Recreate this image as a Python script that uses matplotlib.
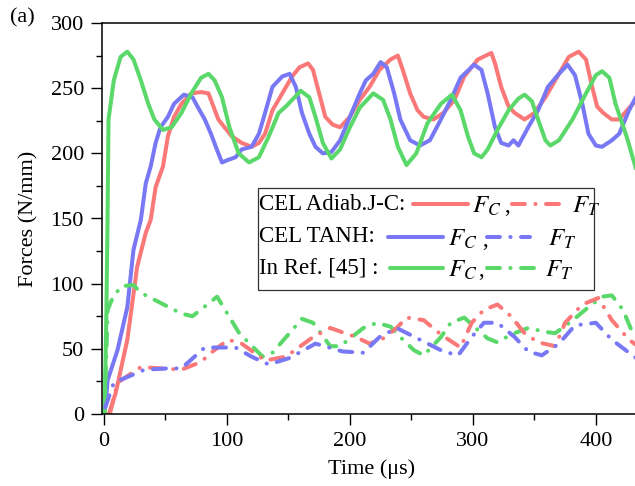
import matplotlib
matplotlib.use("Agg")
from matplotlib import pyplot as plt
from matplotlib.lines import Line2D
from matplotlib.patches import Rectangle

plt.rcParams["font.family"] = ["Liberation Serif", "DejaVu Serif"]
plt.rcParams["mathtext.fontset"] = "stix"

RED = "#fa7878"
BLUE = "#7878f5"
GREEN = "#5ad86a"

# CEL Adiab. J-C, F_C
adiab_fc_t = [0, 4, 9.5, 19, 27, 34, 38, 42, 48, 52, 57, 63, 71, 79, 85, 89, 93, 98, 104, 112, 120, 126,
              131, 137, 145, 153, 159, 166, 170, 175, 180, 186, 192, 200, 208, 216, 224, 233, 239, 243,
              249, 255, 260, 268, 276, 285, 293, 304, 315, 318, 323, 329, 334, 342, 350, 359, 370, 378,
              386, 392, 397, 401, 406, 413, 419, 430, 437]
adiab_fc = [0, 0, 16, 57, 113, 139, 149, 174, 190, 213, 228, 238, 246, 247, 246, 236, 226, 220, 213, 208, 205, 208,
            215, 233, 246, 259, 266, 269, 264, 246, 228, 222, 220, 228, 241, 251, 264, 272, 275, 264,
            246, 233, 228, 226, 231, 241, 259, 272, 277, 269, 251, 236, 231, 226, 231, 243, 261, 274,
            278, 272, 251, 236, 231, 226, 226, 238, 250]

# CEL TANH, F_C
tanh_fc_t = [0, 1, 3, 11, 19, 24, 30, 34, 38, 42, 46, 52, 57, 65, 72, 76, 82, 87, 93, 96, 101, 107, 112,
             120, 126, 131, 137, 145, 151, 156, 161, 167, 172, 178, 185, 192, 200, 208, 213, 219, 225,
             230, 236, 241, 249, 257, 265, 274, 282, 290, 301, 307, 312, 318, 323, 329, 333, 337, 345,
             353, 361, 370, 377, 383, 389, 394, 400, 405, 413, 419, 427, 437]
tanh_fc = [0, 5, 26, 49, 82, 126, 149, 177, 190, 208, 220, 228, 238, 245, 243, 236, 226, 215, 200, 193, 195, 197, 203,
           205, 215, 231, 251, 259, 261, 251, 231, 215, 205, 200, 201, 210, 228, 246, 256, 261, 270,
           266, 246, 226, 210, 206, 210, 226, 241, 258, 268, 264, 246, 220, 208, 206, 210, 206, 220,
           233, 251, 261, 268, 260, 238, 215, 206, 205, 210, 215, 233, 251]

# In Ref. [45], F_C
ref_fc_t = [0.5, 2, 2.9, 3.7, 8, 13.5, 19, 24, 30, 36, 41, 48, 55, 63, 71, 79, 85, 90, 96, 102, 109.5, 118,
            126, 134, 142, 148, 160, 167, 172, 178, 185, 192, 200, 208, 219, 227, 233, 239, 246, 254,
            263, 274, 283, 290, 296, 301, 307, 312, 320, 329, 337, 342, 348, 353, 359, 363, 370, 381,
            392, 400, 405, 411, 416, 425, 433]
ref_fc = [0, 80, 149, 226, 256, 274, 278, 272, 256, 238, 226, 218, 220, 231, 246, 258, 261, 256, 243, 220, 200, 193,
          197, 213, 231, 236, 248, 243, 228, 208, 196, 203, 220, 235, 246, 241, 226, 205, 191, 200,
          223, 238, 245, 233, 213, 200, 197, 203, 218, 233, 242, 245, 240, 226, 210, 206, 210, 226,
          246, 260, 263, 258, 238, 213, 187]

# CEL Adiab. J-C, F_T
adiab_ft_t = [5, 11, 30, 63, 79, 87, 101, 112, 131, 148, 170, 184, 205, 216, 227, 238, 246, 260, 274, 290,
              299, 309, 320, 331, 342, 353, 367, 375, 389, 402, 413, 427, 437]
adiab_ft = [1, 24, 36, 34, 40, 47, 57, 54, 41, 44, 59, 66, 59, 54, 58, 66, 74, 72, 61, 51,
            70, 80, 84, 75, 62, 55, 52, 70, 84, 89, 72, 57, 50]

# CEL TANH, F_T
tanh_ft_t = [1, 8, 33, 52, 63, 82, 107, 120, 134, 151, 172, 194, 211, 224, 238, 257, 276, 288, 299, 309,
             320, 334, 345, 356, 370, 383, 400, 413, 427, 437]
tanh_ft = [5, 24, 34, 35, 35, 51, 51, 44, 38, 43, 54, 48, 47, 59, 66, 57, 48, 45, 59, 70,
           70, 59, 48, 45, 54, 68, 70, 57, 47, 40]

# In Ref. [45], F_T
ref_ft_t = [0.5, 1, 3, 7, 14, 24, 30, 63, 72, 92, 110, 129, 137, 161, 170, 184, 192, 211, 222, 233, 241,
            252, 260, 274, 282, 293, 301, 312, 320, 331, 345, 359, 367, 380, 394, 405, 413, 422, 430, 437]
ref_ft = [0, 16, 80, 89, 98, 99, 93, 77, 75, 90, 62, 44, 47, 73, 70, 52, 52, 66, 70, 67, 59,
          49, 45, 59, 70, 74, 67, 58, 55, 61, 66, 63, 62, 71, 82, 90, 91, 80, 62, 54]

W, H = 635, 486
fig = plt.figure(figsize=(W / 100, H / 100), dpi=100)
ax = fig.add_axes([102 / W, (H - 414) / H, (W - 102) / W + 0.01, (414 - 23) / H])

LW = 2.9
DD = [3.2, 2.6, 0.05, 2.6]
ax.plot(adiab_fc_t, adiab_fc, color=RED, lw=LW, solid_capstyle="round", solid_joinstyle="round")
ax.plot(tanh_fc_t, tanh_fc, color=BLUE, lw=LW, solid_capstyle="round", solid_joinstyle="round")
ax.plot(ref_fc_t, ref_fc, color=GREEN, lw=LW, solid_capstyle="round", solid_joinstyle="round")
ax.plot(ref_ft_t, ref_ft, color=GREEN, lw=LW, dashes=DD, dash_capstyle="round")
ax.plot(adiab_ft_t, adiab_ft, color=RED, lw=LW, dashes=DD, dash_capstyle="round")
ax.plot(tanh_ft_t, tanh_ft, color=BLUE, lw=LW, dashes=DD, dash_capstyle="round")

ax.set_xlim(-1.6, 437)
ax.set_ylim(0, 300)
ax.set_xticks([0, 100, 200, 300, 400])
ax.set_xticks([50, 150, 250, 350], minor=True)
ax.set_yticks([0, 50, 100, 150, 200, 250, 300])
ax.set_yticks([25, 75, 125, 175, 225, 275], minor=True)
ax.tick_params(which="both", direction="out", labelsize=16, width=1)
ax.tick_params(which="major", length=8, pad=5)
ax.tick_params(which="minor", length=4.5)
ax.spines["right"].set_visible(False)
for s in ["left", "bottom", "top"]:
    ax.spines[s].set_linewidth(1.1)
ax.set_xlabel("Time (\u03bcs)", fontsize=16, labelpad=6)
ax.set_ylabel("Forces (N/mm)", fontsize=16, labelpad=9)

fig.text(10 / W, 1 - 18 / H, "(a)", fontsize=16, va="center", ha="left")


def fx(px):
    return px / W


def fy(py):
    return 1 - py / H


# legend box
fig.add_artist(Rectangle((fx(258), fy(290)), (594 - 258) / W, (290 - 188) / H,
                         transform=fig.transFigure, facecolor="white", edgecolor="#333333", lw=0.9))

rows = [
    ("CEL Adiab.J-C:", RED, 204, 413, 468, 472, 504, 512, 568, 572),
    ("CEL TANH:", BLUE, 237, 388, 443, 448, 482, 487, 530, 548),
    ("In Ref. [45] :", GREEN, 268, 390, 443, 448, 478, 487, 542, 545),
]
for label, col, yc, l1a, l1b, tc, cx, l2a, l2b, tt in rows:
    fig.text(fx(259), fy(yc), label, fontsize=16.5, va="center", ha="left")
    fig.add_artist(Line2D([fx(l1a), fx(l1b)], [fy(yc), fy(yc)], transform=fig.transFigure,
                          color=col, lw=LW, solid_capstyle="round"))
    fig.text(fx(tc), fy(yc + 2), "$F_C$", fontsize=18, va="center", ha="left")
    fig.text(fx(cx), fy(yc + 3), ",", fontsize=16.5, va="center", ha="left")
    fig.add_artist(Line2D([fx(l2a), fx(l2b)], [fy(yc), fy(yc)], transform=fig.transFigure,
                          color=col, lw=LW, dashes=DD, dash_capstyle="round"))
    fig.text(fx(tt), fy(yc + 2), "$F_T$", fontsize=18, va="center", ha="left")

plt.savefig("out.png", dpi=100)
